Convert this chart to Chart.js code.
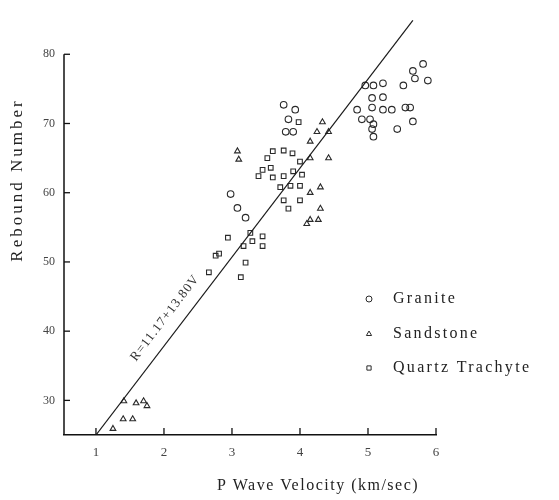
<!DOCTYPE html>
<html>
<head>
<meta charset="utf-8">
<script src="https://cdn.jsdelivr.net/npm/chart.js@4/dist/chart.umd.min.js"></script>
<style>
html,body{margin:0;padding:0;background:#fff;}
canvas{display:block;}
</style>
</head>
<body>
<canvas id="c" width="559" height="500"></canvas>
<script>
// ---- data ----
const xTicks = [1, 2, 3, 4, 5, 6];
const yTicks = [30, 40, 50, 60, 70, 80];

const graniteV = [5.81, 5.66, 5.88, 5.69, 5.52, 5.22, 5.08, 4.96, 5.22, 5.06, 4.84, 5.06, 5.22, 5.35, 5.55, 5.62, 4.91, 5.03, 5.08, 5.06, 5.08, 5.43, 5.66,
                  2.98, 3.08, 3.20, 3.76, 3.93, 3.83, 3.79, 3.90];
const graniteR = [78.6, 77.6, 76.2, 76.5, 75.5, 75.8, 75.5, 75.5, 73.8, 73.7, 72.0, 72.3, 72.0, 72.0, 72.3, 72.3, 70.6, 70.6, 69.9, 69.2, 68.1, 69.2, 70.3,
                  59.8, 57.8, 56.4, 72.7, 72.0, 70.6, 68.8, 68.8];

const sandV = [1.25, 1.40, 1.54, 1.41, 1.59, 1.70, 1.75,
               4.33, 4.25, 4.15, 4.42, 4.42, 4.15, 4.30, 4.15, 4.30, 4.15, 4.27, 4.10, 3.08, 3.10];
const sandR = [25.9, 27.3, 27.3, 29.9, 29.6, 29.9, 29.2,
               70.2, 68.8, 67.4, 68.8, 65.0, 65.0, 60.8, 60.0, 57.7, 56.1, 56.1, 55.5, 66.0, 64.8];

const quartzV = [3.60, 3.76, 3.89, 3.52, 4.00, 3.45, 3.57, 3.39, 3.60, 3.76, 3.90, 4.03, 3.71, 3.86, 4.00, 3.76, 3.83, 4.00,
                 3.27, 3.45, 3.30, 3.17, 3.45, 2.94, 2.76, 2.81, 3.20, 3.13, 2.66, 3.98];
const quartzR = [66.0, 66.1, 65.7, 65.0, 64.5, 63.3, 63.6, 62.4, 62.2, 62.4, 63.1, 62.6, 60.8, 61.0, 61.0, 58.9, 57.7, 58.9,
                 54.2, 53.7, 53.0, 52.3, 52.3, 53.5, 50.9, 51.2, 49.9, 47.8, 48.5, 70.2];

const fitV = [1.0, 5.66];
const fitR = [25.0, 84.9];

const seriesLabels = ['Granite', 'Sandstone', 'Quartz Trachyte'];
const fitLabel = 'R=11.17+13.80V';
const xTitle = 'P Wave Velocity (km/sec)';
const yTitle = 'Rebound Number';

const pts = (xs, ys) => xs.map((v, i) => ({x: v, y: ys[i]}));

const INK = '#2a2a2a';
const SERIF = '"Liberation Serif", "DejaVu Serif", serif';

const decor = {
  id: 'decor',
  afterDraw(chart) {
    const ctx = chart.ctx;
    const xs = chart.scales.x, ys = chart.scales.y;
    const ca = chart.chartArea;
    ctx.save();
    // y axis line (up to the 80 tick)
    const yTop = ys.getPixelForValue(yTicks[yTicks.length - 1]);
    ctx.strokeStyle = '#111';
    ctx.lineWidth = 1.5;
    ctx.beginPath();
    ctx.moveTo(ca.left, ca.bottom);
    ctx.lineTo(ca.left, yTop);
    ctx.stroke();
    // inward tick marks
    ctx.lineWidth = 1.3;
    yTicks.forEach(t => {
      const y = ys.getPixelForValue(t);
      ctx.beginPath(); ctx.moveTo(ca.left, y); ctx.lineTo(ca.left + 6, y); ctx.stroke();
    });
    xTicks.forEach(t => {
      const x = xs.getPixelForValue(t);
      ctx.beginPath(); ctx.moveTo(x, ca.bottom); ctx.lineTo(x, ca.bottom - 7); ctx.stroke();
    });
    // axis titles
    ctx.fillStyle = '#222';
    ctx.textBaseline = 'middle';
    ctx.textAlign = 'center';
    ctx.font = '16px ' + SERIF;
    ctx.letterSpacing = '1.5px';
    ctx.fillText(xTitle, 318, 486);
    ctx.save();
    ctx.translate(18, 180);
    ctx.rotate(-Math.PI / 2);
    ctx.font = '17px ' + SERIF;
    ctx.letterSpacing = '3px';
    ctx.fillText(yTitle, 0, 0);
    ctx.restore();
    // fit-line label, parallel to the line
    const p0x = xs.getPixelForValue(fitV[0]), p0y = ys.getPixelForValue(fitR[0]);
    const p1x = xs.getPixelForValue(fitV[1]), p1y = ys.getPixelForValue(fitR[1]);
    const ang = Math.atan2(p1y - p0y, p1x - p0x);
    ctx.save();
    ctx.translate(165, 318);
    ctx.rotate(ang);
    ctx.font = '13px ' + SERIF;
    ctx.letterSpacing = '1px';
    ctx.fillStyle = '#333';
    ctx.fillText(fitLabel, 0, 0);
    ctx.restore();
    // legend
    const rows = [299, 334, 368];
    const styles = ['circle', 'triangle', 'rect'];
    ctx.textAlign = 'left';
    ctx.font = '16px ' + SERIF;
    ctx.letterSpacing = '2.3px';
    seriesLabels.forEach((lab, i) => {
      ctx.fillStyle = '#fff';
      ctx.strokeStyle = INK;
      ctx.lineWidth = 1;
      Chart.helpers.drawPoint(ctx, {pointStyle: styles[i], radius: 3, borderWidth: 1}, 369, rows[i]);
      ctx.fillStyle = '#222';
      ctx.fillText(lab, 393, rows[i]);
    });
    ctx.restore();
  }
};

const scatterDs = (label, data, style) => ({
  type: 'scatter',
  label, data,
  pointStyle: style,
  pointRadius: 3.3,
  pointBorderWidth: 1.1,
  borderColor: INK,
  backgroundColor: 'rgba(255,255,255,0)',
});

new Chart(document.getElementById('c'), {
  type: 'scatter',
  data: {
    datasets: [
      {
        type: 'line', label: fitLabel, data: pts(fitV, fitR),
        borderColor: '#1a1a1a', borderWidth: 1.2, pointRadius: 0, fill: false
      },
      scatterDs(seriesLabels[0], pts(graniteV, graniteR), 'circle'),
      scatterDs(seriesLabels[1], pts(sandV, sandR), 'triangle'),
      scatterDs(seriesLabels[2], pts(quartzV, quartzR), 'rect'),
    ]
  },
  options: {
    responsive: false,
    animation: false,
    layout: {padding: {left: 0, top: 5, right: 123, bottom: 0}},
    plugins: {legend: {display: false}, tooltip: {enabled: false}},
    scales: {
      x: {
        type: 'linear', min: 0.53, max: 6.0,
        afterBuildTicks: s => { s.ticks = xTicks.map(v => ({value: v})); },
        afterFit: s => { s.height = 65; },
        grid: {display: false, drawTicks: false},
        border: {display: true, color: '#111', width: 1.5},
        ticks: {color: '#444', padding: 10, font: {family: SERIF, size: 13}}
      },
      y: {
        type: 'linear', min: 25, max: 85.5,
        afterBuildTicks: s => { s.ticks = yTicks.map(v => ({value: v})); },
        afterFit: s => { s.width = 64; },
        grid: {display: false, drawTicks: false},
        border: {display: false},
        ticks: {color: '#444', padding: 9, font: {family: SERIF, size: 12}}
      }
    }
  },
  plugins: [decor]
});
</script>
</body>
</html>
